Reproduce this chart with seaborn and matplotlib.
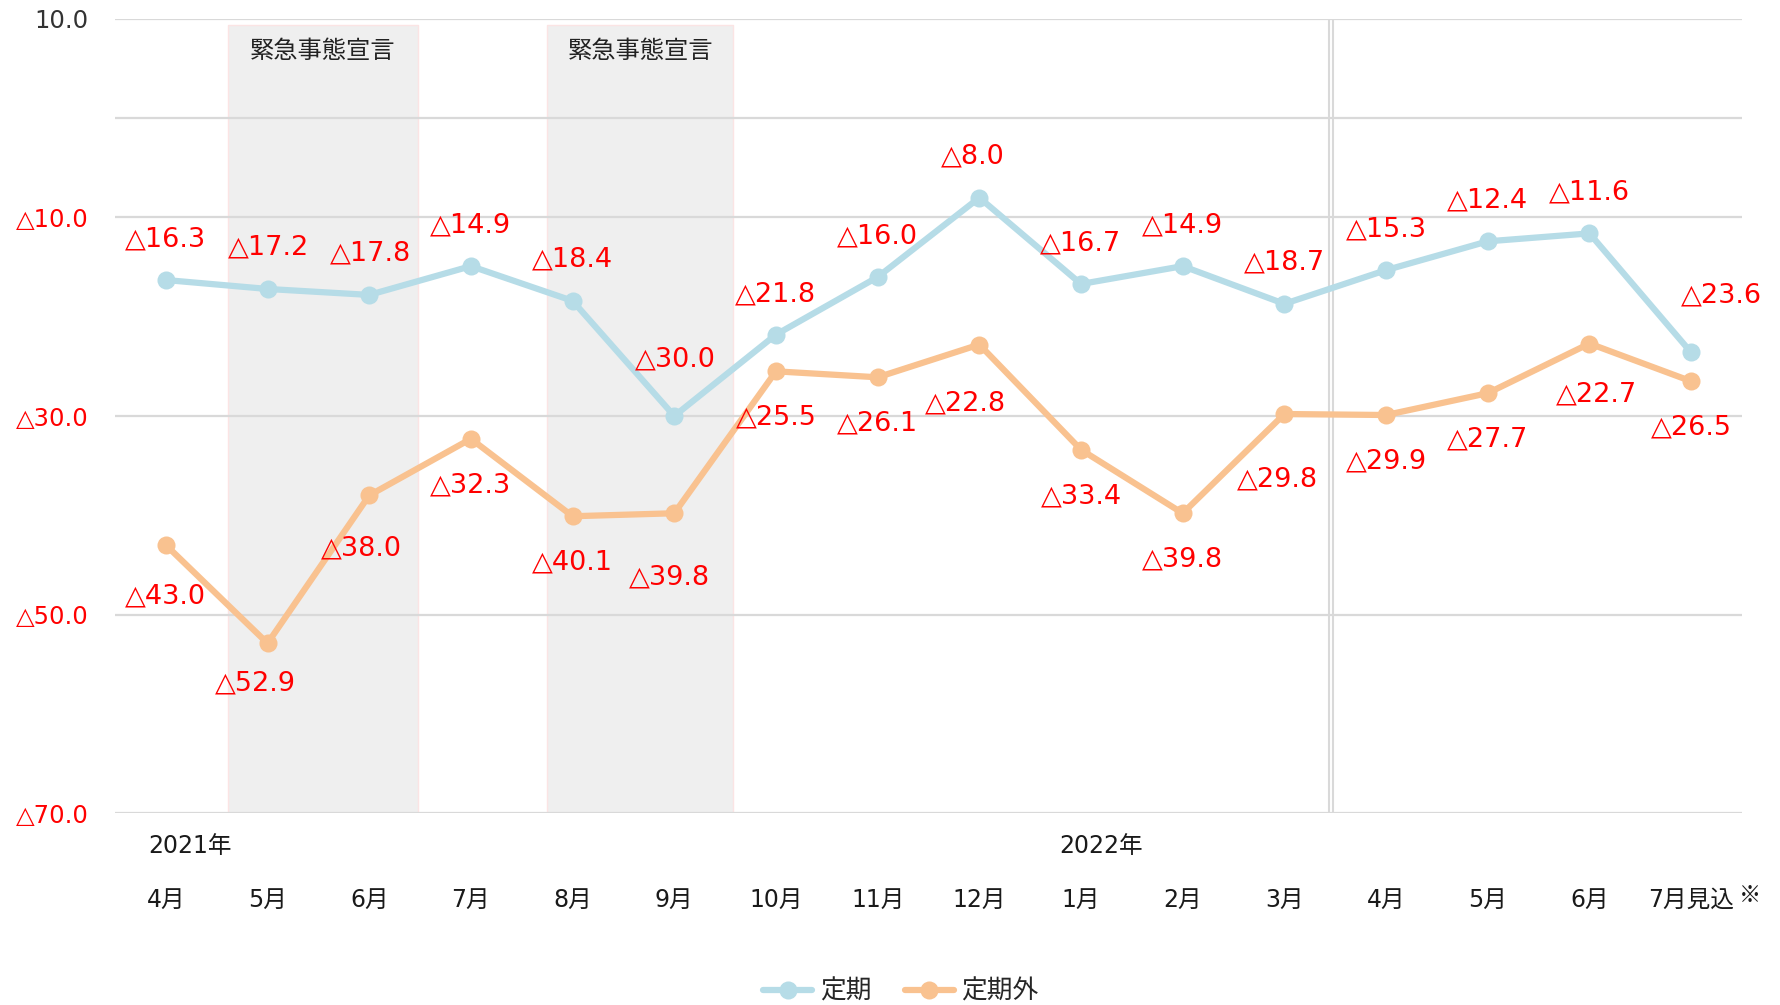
# 定期 / 定期外 前年比推移チャート
import numpy as np
import pandas as pd
import matplotlib
matplotlib.use("Agg")
import matplotlib.pyplot as plt
import seaborn as sns

# ── data ─────────────────────────────────────────────
months = ["4月", "5月", "6月", "7月", "8月", "9月", "10月", "11月", "12月",
          "1月", "2月", "3月", "4月", "5月", "6月", "7月見込"]
teiki = [-16.3, -17.2, -17.8, -14.9, -18.4, -30.0, -21.8, -16.0, -8.0,
         -16.7, -14.9, -18.7, -15.3, -12.4, -11.6, -23.6]
teikigai = [-43.0, -52.9, -38.0, -32.3, -40.1, -39.8, -25.5, -26.1, -22.8,
            -33.4, -39.8, -29.8, -29.9, -27.7, -22.7, -26.5]
series_names = ["定期", "定期外"]
years = ["2021年", "2022年"]
year_pos = [0.24, 9.2]
emergency_label = "緊急事態宣言"
emergency_spans = [(0.61, 2.48), (3.75, 5.58)]
fiscal_break = 11.46
y_ticks = [10, 0, -10, -30, -50, -70]

# label offsets in pixels (dx, dy)
off_teiki = [(0, 41), (1, 41), (1, 41), (0, 41), (0, 41), (1, 57), (0, 40), (0, 41),
             (-7, 41), (0, 41), (0, 41), (0, 41), (0, 41), (0, 41), (0, 41), (30, 57)]
off_gai = [(0, -51), (-12, -40), (-8, -53), (0, -47), (0, -46), (-5, -64), (0, -46), (0, -46),
           (-14, -59), (0, -47), (0, -46), (-7, -65), (0, -46), (0, -46), (7, -51), (0, -46)]

BLUE = "#b6dce7"
ORANGE = "#f9c290"
RED = "#ff0000"
GRID = "#d9d9d9"


def fmt(v):
    if v < 0:
        return f"△{-v:.1f}"
    return f"{v:.1f}"


# ── style ────────────────────────────────────────────
sns.set_style("white")
plt.rcParams["font.family"] = ["DejaVu Sans", "Noto Sans CJK JP"]

n = len(months)
df = pd.DataFrame({
    "idx": list(range(n)) * 2,
    "value": teiki + teikigai,
    "series": [series_names[0]] * n + [series_names[1]] * n,
})

fig = plt.figure(figsize=(17.81, 10.05), dpi=100)
ax = fig.add_axes([115 / 1781, 1 - 813 / 1005, (1742 - 115) / 1781, (813 - 19) / 1005])

# shaded emergency periods
for x0, x1 in emergency_spans:
    ax.axvspan(x0, x1, ymin=0, ymax=0.993, facecolor="#efefef", edgecolor="#fbe4e4",
               lw=1, zorder=0.2)
    ax.text((x0 + x1) / 2, 0.96, emergency_label, transform=ax.get_xaxis_transform(),
            ha="center", va="center", fontsize=17.5, color="#222222",
            family=["Noto Sans CJK JP", "DejaVu Sans"])

# fiscal year separator (double line)
for dx in (-0.02, 0.02):
    ax.axvline(fiscal_break + dx, color=GRID, lw=1.5, zorder=0.5)

sns.lineplot(data=df, x="idx", y="value", hue="series",
             palette={series_names[0]: BLUE, series_names[1]: ORANGE},
             marker="o", markersize=13, markeredgewidth=0, linewidth=4.5,
             ax=ax, zorder=3)

# data labels
for vals, offs in ((teiki, off_teiki), (teikigai, off_gai)):
    for i, (v, (dx, dy)) in enumerate(zip(vals, offs)):
        ax.annotate(fmt(v), (i, v), xytext=(dx, dy), textcoords="offset pixels",
                    ha="center", va="center", color=RED, fontsize=19.5, zorder=4)

# axes
ax.set_xlim(-0.5, n - 0.5)
ax.set_ylim(-70, 10)
ax.set_yticks(y_ticks)
ax.set_yticklabels(["" if v == 0 else fmt(v) for v in y_ticks], fontsize=17.5)
for lbl, v in zip(ax.get_yticklabels(), y_ticks):
    lbl.set_color(RED if v < 0 else "#333333")
ax.set_xticks(range(n))
ax.set_xticklabels(months, fontsize=17, color="#1a1a1a")
ax.tick_params(axis="x", length=0, pad=54)
ax.tick_params(axis="y", length=0, pad=19)
ax.grid(axis="y", color=GRID, lw=1.6)
ax.grid(axis="x", visible=False)
ax.set_axisbelow(True)
for sp in ax.spines.values():
    sp.set_visible(False)
ax.set_xlabel("")
ax.set_ylabel("")

# ※ after the last month label
ax.annotate("※", (n - 1, 0), xycoords=("data", "axes fraction"), xytext=(59, -82),
            textcoords="offset pixels", ha="center", va="center", fontsize=16,
            color="#1a1a1a", family=["Noto Sans CJK JP", "DejaVu Sans"])

# year labels
for yr, xp in zip(years, year_pos):
    ax.annotate(yr, (xp, 0), xycoords=("data", "axes fraction"), xytext=(0, -33),
                textcoords="offset pixels", ha="center", va="center", fontsize=17,
                color="#1a1a1a")

# legend
handles, labels = ax.get_legend_handles_labels()
ax.legend_.remove()
fig.legend(handles, labels, loc="center", bbox_to_anchor=(901 / 1781, 1 - 992 / 1005),
           ncol=2, frameon=False, fontsize=18.5, handlelength=1.9, columnspacing=1.3,
           handletextpad=0.3)

plt.savefig("out.png", dpi=100)
